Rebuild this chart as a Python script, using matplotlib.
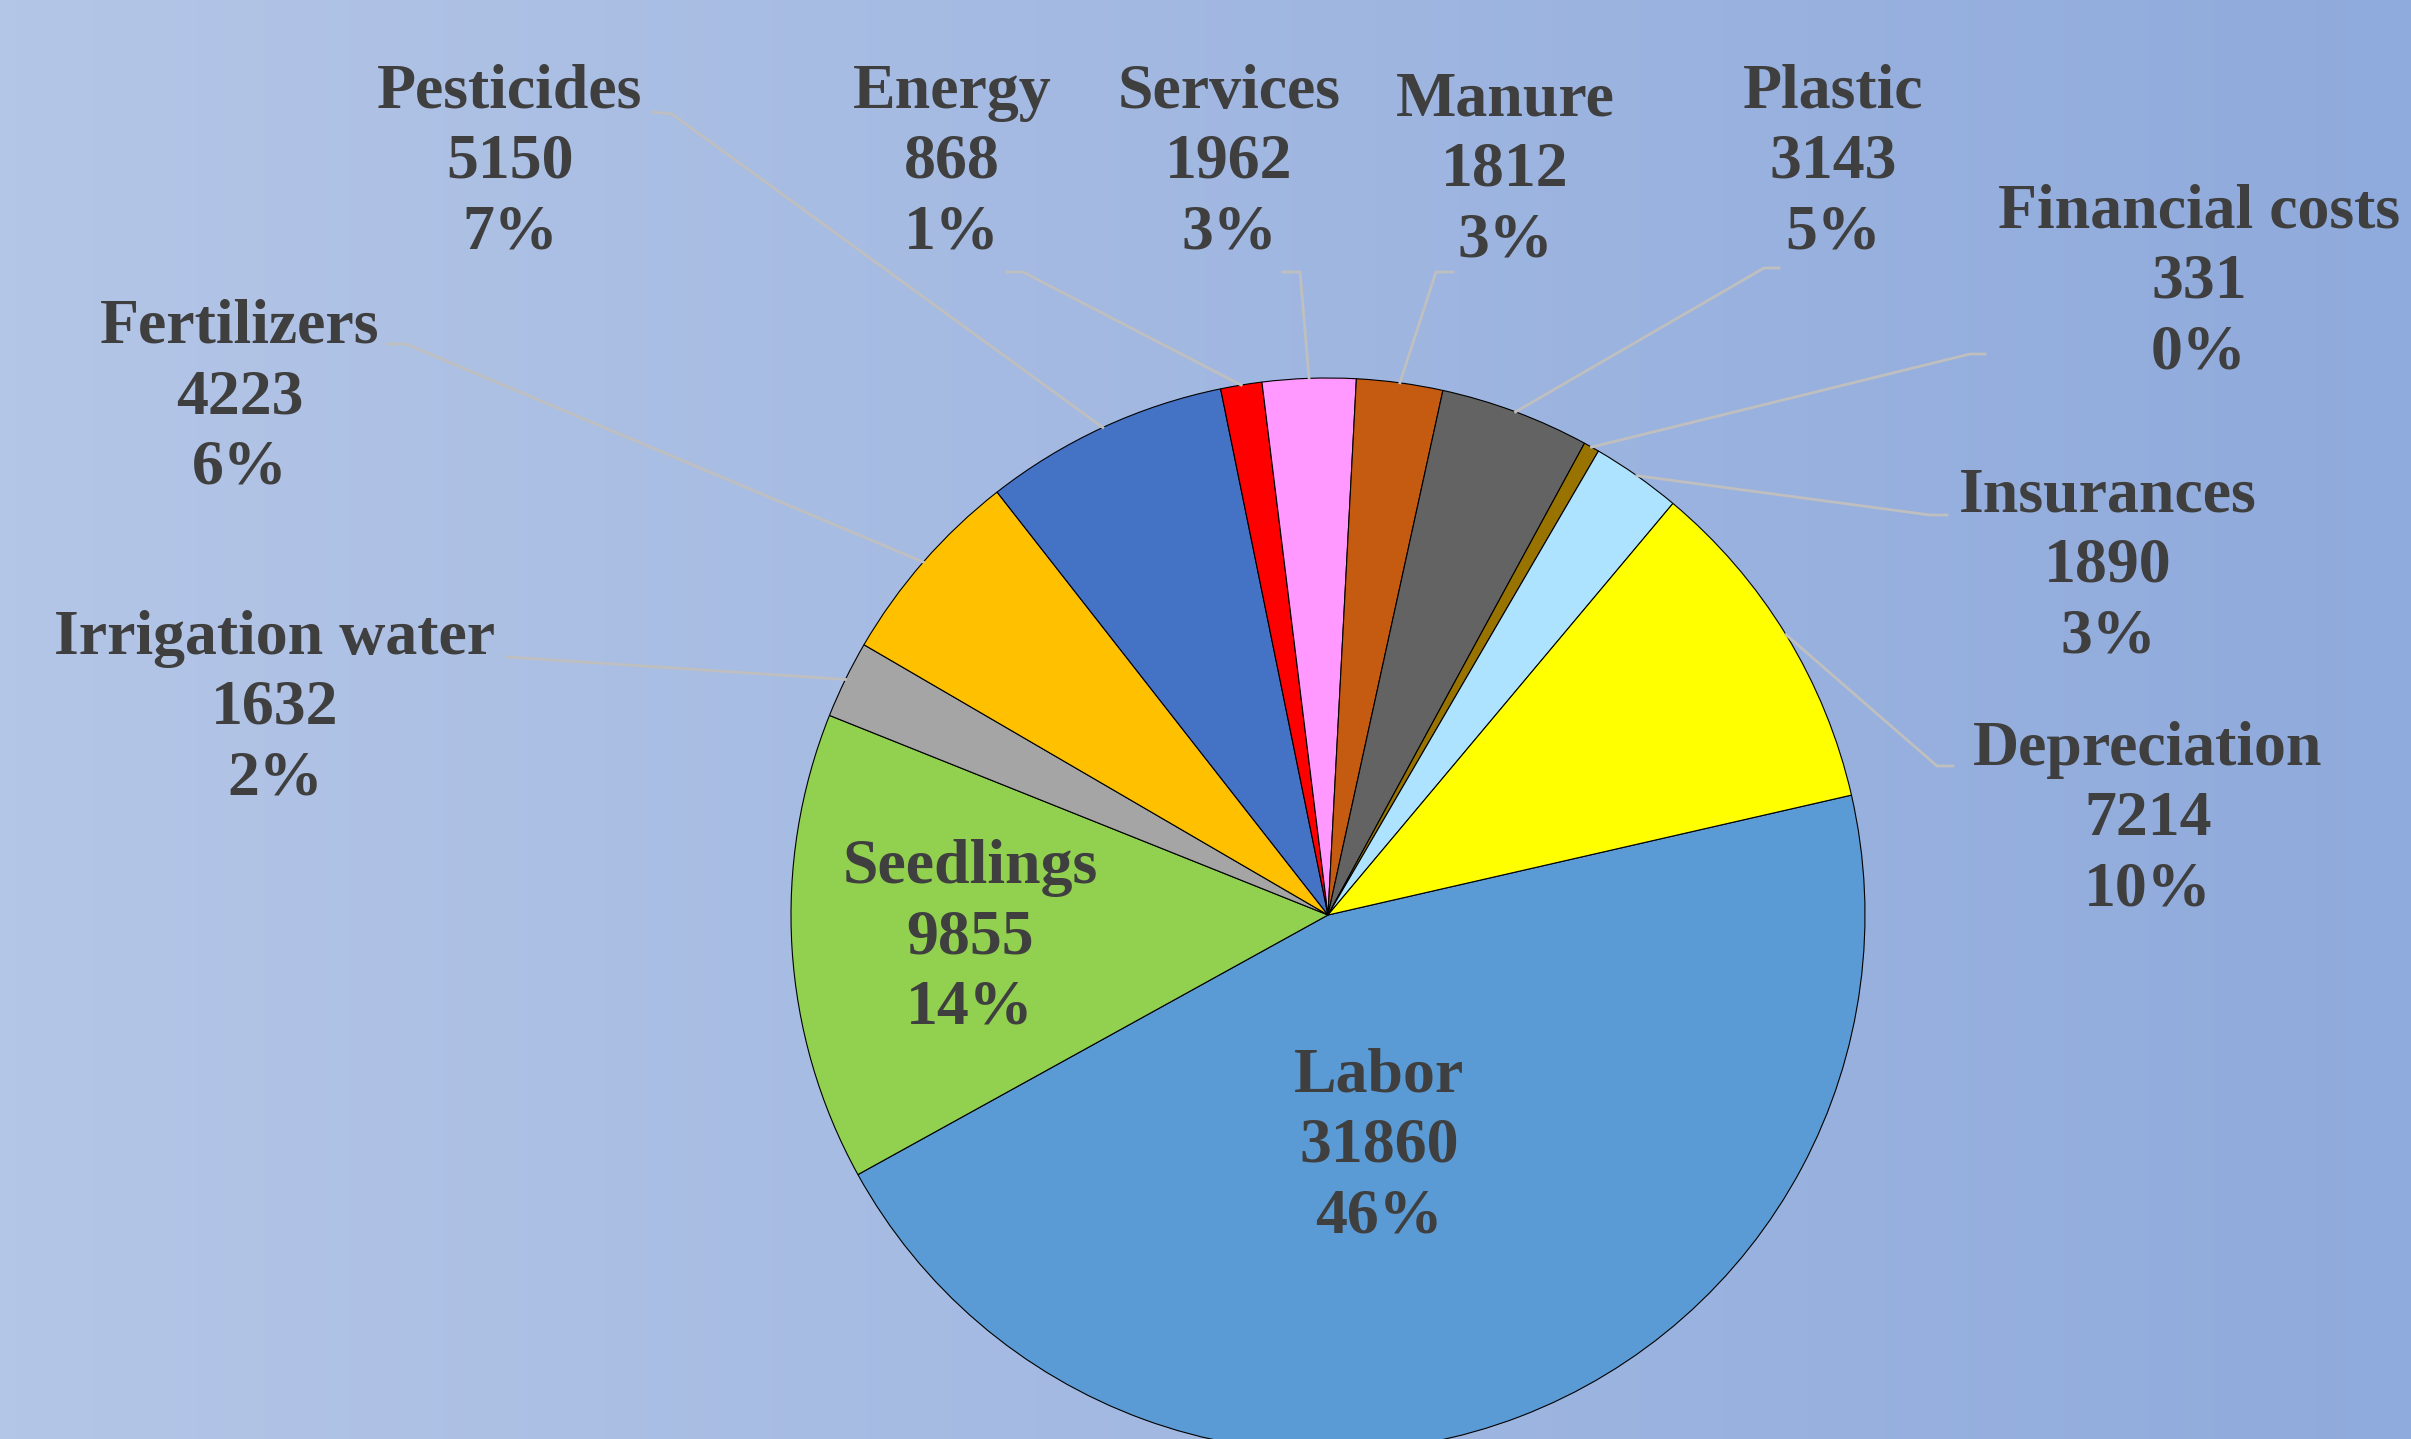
import numpy as np
import matplotlib.pyplot as plt
from matplotlib.colors import LinearSegmentedColormap

# data
categories = ['Labor', 'Seedlings', 'Irrigation water', 'Fertilizers', 'Pesticides',
              'Energy', 'Services', 'Manure', 'Plastic', 'Financial costs',
              'Insurances', 'Depreciation']
costs = [31860, 9855, 1632, 4223, 5150, 868, 1962, 1812, 3143, 331, 1890, 7214]
pct_labels = ['46%', '14%', '2%', '6%', '7%', '1%', '3%', '3%', '5%', '0%', '3%', '10%']
colors = ['#5B9BD5', '#92D050', '#A5A5A5', '#FFC000', '#4472C4', '#FF0000',
          '#FF99FF', '#C55A11', '#636363', '#997300', '#ADE3FF', '#FFFF00']

W, H = 2411, 1439
cx, cy, R = 1328, H - 915, 537

# label layout in pixels from top-left: text centre, leader start, leader kink
layout = {
    'Pesticides':       ((510, 163),  (653, 112), (672, 114)),
    'Energy':           ((952, 163),  (1007, 272), (1023, 272)),
    'Services':         ((1229, 163), (1283, 272), (1300, 272)),
    'Manure':           ((1505, 171), (1453, 272), (1436, 272)),
    'Plastic':          ((1833, 163), (1779, 268), (1764, 268)),
    'Financial costs':  ((2199, 283), (1985, 354), (1970, 354)),
    'Insurances':       ((2108, 567), (1947, 515), (1930, 515)),
    'Depreciation':     ((2148, 820), (1953, 766), (1937, 766)),
    'Fertilizers':      ((240, 398),  (387, 344), (406, 344)),
    'Irrigation water': ((275, 709),  (507, 657), (523, 658)),
}
inside = {'Labor': (1379, 1147), 'Seedlings': (970, 938)}

fig = plt.figure(figsize=(W / 100, H / 100), dpi=100)
ax = fig.add_axes([0, 0, 1, 1])

grad = LinearSegmentedColormap.from_list('bg', ['#B4C6E7', '#8FAADC'])
ax.imshow(np.linspace(0, 1, 256)[None, :], cmap=grad, aspect='auto',
          extent=(0, W, 0, H), zorder=0)

wedges, _ = ax.pie(costs, colors=colors, startangle=12.9, counterclock=False,
                   center=(cx, cy), radius=R,
                   wedgeprops=dict(edgecolor='black', linewidth=0.8))
for w in wedges:
    w.set_zorder(2)

ax.set_xlim(0, W)
ax.set_ylim(0, H)
ax.set_aspect('equal')
ax.axis('off')

font = dict(family='Liberation Serif', fontweight='bold', fontsize=46,
            color='#3F3F3F', ha='center', va='center', linespacing=1.28, zorder=4)

for i, cat in enumerate(categories):
    txt = f'{cat}\n{costs[i]}\n{pct_labels[i]}'
    if cat in inside:
        x, y = inside[cat]
        ax.text(x, H - y, txt, **font)
        continue
    (tx, ty), (sx, sy), (kx, ky) = layout[cat]
    ax.text(tx, H - ty, txt, **font)
    w = wedges[i]
    mid = np.deg2rad((w.theta1 + w.theta2) / 2)
    ex, ey = cx + R * np.cos(mid), cy + R * np.sin(mid)
    ax.plot([sx, kx, ex], [H - sy, H - ky, ey], color='#BFBFBF', lw=2.0, zorder=3)

fig.savefig('out.png', dpi=100)
